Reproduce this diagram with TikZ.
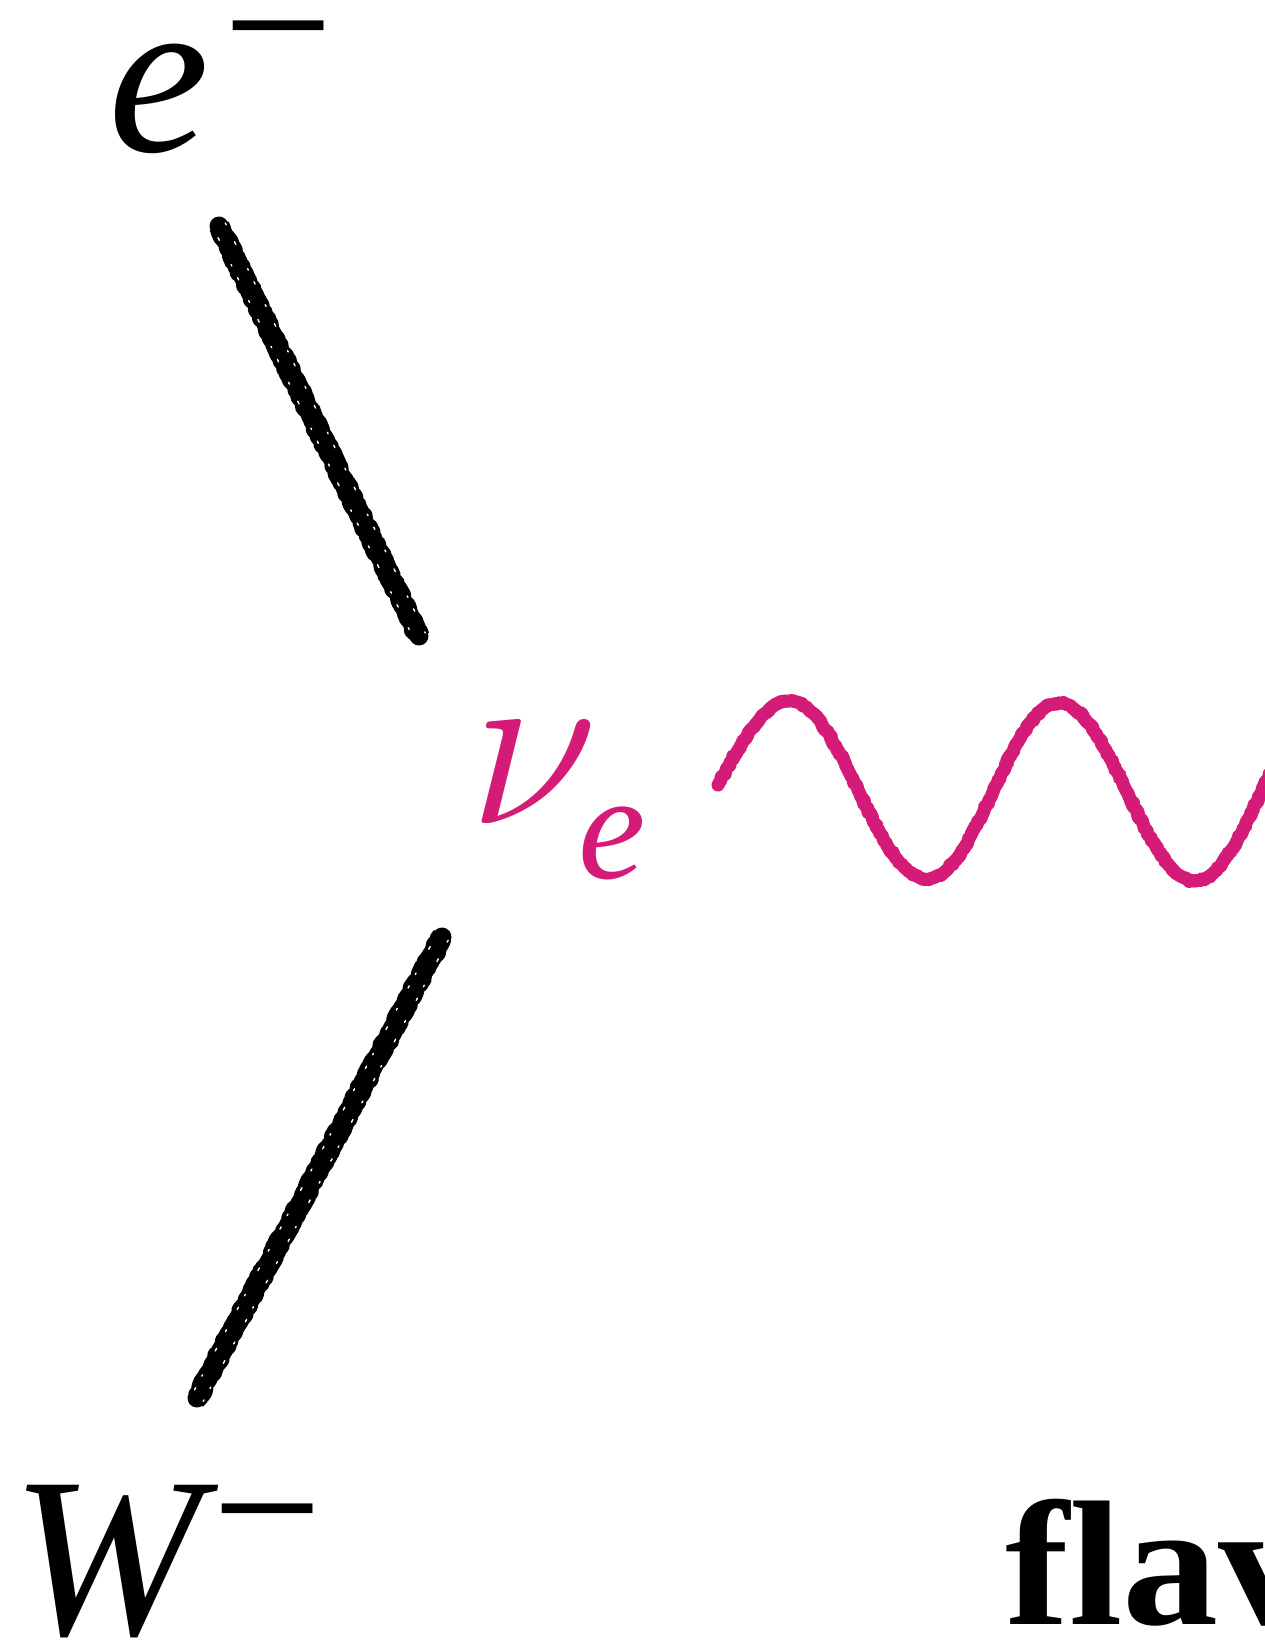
\RequirePackage{fix-cm}
\documentclass[tikz,border=0pt]{standalone}
\usepackage{fontspec}
\setmainfont{Liberation Serif}
\usetikzlibrary{decorations.pathmorphing,calc}
\definecolor{nupink}{RGB}{213,27,120}
\newcommand{\bigsz}{\fontsize{228}{240}\selectfont}
\newcommand{\supsz}{\fontsize{195}{200}\selectfont}
\newcommand{\subsz}{\fontsize{152}{160}\selectfont}
\tikzset{
  lab/.style={inner sep=0pt, outer sep=0pt, anchor=base west},
  charcoalcore/.style={draw=black, line width=19pt, line cap=round},
  charcoal/.style={draw=black, line width=21pt, line cap=butt, line join=round,
    decorate, decoration={random steps, segment length=2.5pt, amplitude=1.5pt}},
  speckle/.style={draw=white, line width=1.4pt, line cap=round,
    dash pattern=on 2pt off 19pt on 3pt off 27pt on 1.5pt off 13pt on 2.5pt off 23pt},
  wavy/.style={draw=nupink, line width=12pt, line cap=round},
  wavyrough/.style={draw=nupink, line width=13pt, line cap=round, line join=round,
    decorate, decoration={random steps, segment length=2.5pt, amplitude=1.2pt}}
}
\begin{document}
\begin{tikzpicture}[x=1pt, y=-1pt]
\pgfmathsetseed{11}
\useasboundingbox (0,0) rectangle (1265,1642);
% labels
\node[lab] (em) at (108,151) {\bigsz\itshape e\kern14pt\raisebox{61pt}{\supsz\upshape −}};
\node[lab] (wm) at (11,1634) {\bigsz\itshape W\kern12pt\raisebox{61pt}{\supsz\upshape −}};
\node[lab, text=nupink] (nu) at (469,823) {\fontsize{236}{240}\selectfont$\nu$\kern-20pt\raisebox{-55pt}{\subsz\itshape e}};
\node[lab] (flav) at (1005,1624) {\fontsize{178}{190}\selectfont\bfseries\scalebox{1.08}[1]{flav}};
% connector coordinates
\coordinate (l1a) at (219,226);
\coordinate (l1b) at (419,636);
\coordinate (l2a) at (442,937);
\coordinate (l2b) at (197,1398);
\coordinate (w0) at (718,785);
% charcoal fermion lines
\draw[charcoalcore] (l1a) -- (l1b);
\draw[charcoal] (l1a) -- (l1b);
\draw[speckle] ($(l1a)!7pt!90:(l1b)$) -- ($(l1b)!7pt!-90:(l1a)$);
\draw[speckle, dash phase=11pt] ($(l1a)!6pt!-90:(l1b)$) -- ($(l1b)!6pt!90:(l1a)$);
\draw[charcoalcore] (l2a) -- (l2b);
\draw[charcoal] (l2a) -- (l2b);
\draw[speckle] ($(l2a)!7pt!90:(l2b)$) -- ($(l2b)!7pt!-90:(l2a)$);
\draw[speckle, dash phase=7pt] ($(l2a)!6pt!-90:(l2b)$) -- ($(l2b)!6pt!90:(l2a)$);
% wave
\draw[wavy] (w0) sin (790,701) cos (858,790) sin (927,879) cos (993,792)
  sin (1059,703) cos (1127,792) sin (1195,881) cos (1262,790) sin (1330,701);
\draw[wavyrough] (w0) sin (790,701) cos (858,790) sin (927,879) cos (993,792)
  sin (1059,703) cos (1127,792) sin (1195,881) cos (1262,790) sin (1330,701);
\end{tikzpicture}
\end{document}
